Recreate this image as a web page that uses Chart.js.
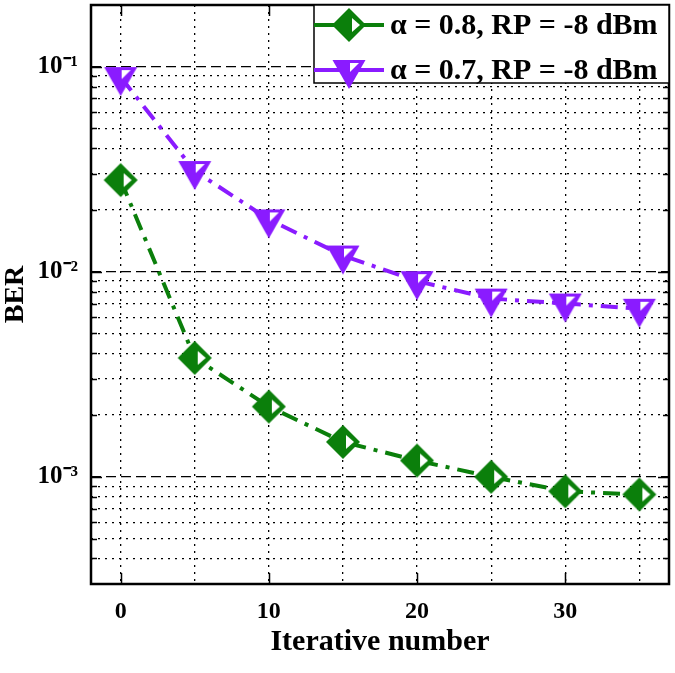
<!DOCTYPE html>
<html>
<head>
<meta charset="utf-8">
<script src="https://cdn.jsdelivr.net/npm/chart.js@4.4.1/dist/chart.umd.min.js"></script>
<style>
  html, body { margin: 0; padding: 0; background: #fff; }
  #wrap { width: 675px; height: 673px; }
</style>
</head>
<body>
<div id="wrap"><canvas id="berChart" width="675" height="673"></canvas></div>
<script>
const iterations = [0, 5, 10, 15, 20, 25, 30, 35];
const berAlpha08 = [0.028, 0.0038, 0.0022, 0.00148, 0.0012, 0.001, 0.00085, 0.00082];
const berAlpha07 = [0.089, 0.031, 0.018, 0.012, 0.009, 0.0074, 0.0070, 0.0066];
const seriesLabels = ['α = 0.8, RP = -8 dBm', 'α = 0.7, RP = -8 dBm'];

const xGridTicks = [0, 5, 10, 15, 20, 25, 30, 35];
const xLabelTicks = [0, 10, 20, 30];
const yDecades = [1e-4, 1e-3, 1e-2, 1e-1];
const yMantissas = [1, 2, 3, 4, 5, 6, 7, 8, 9];
const yDecadeLabels = { '-1': '10⁻¹', '-2': '10⁻²', '-3': '10⁻³' };

const GREEN = '#0b7f0b';
const PURPLE = '#8a1bff';
const SERIF = "'Liberation Serif', 'Times New Roman', serif";

document.addEventListener('DOMContentLoaded', () => {
  const yMin = 3e-4, yMax = 0.2;
  const yTicks = [];
  yDecades.forEach(d => yMantissas.forEach(m => {
    const v = +(d * m).toPrecision(3);
    if (v > yMin && v < yMax) yTicks.push(v);
  }));
  const isDecade = v => Math.abs(Math.log10(v) - Math.round(Math.log10(v))) < 1e-6;

  // marker images
  function diamondMarker(color) {
    const c = document.createElement('canvas');
    c.width = 40; c.height = 40;
    const g = c.getContext('2d');
    g.fillStyle = color;
    g.beginPath();
    g.moveTo(20, 3); g.lineTo(37, 20); g.lineTo(20, 37); g.lineTo(3, 20);
    g.closePath(); g.fill();
    g.fillStyle = '#fff';
    g.beginPath();
    g.moveTo(23, 13); g.lineTo(31, 20); g.lineTo(23, 27);
    g.closePath(); g.fill();
    return c;
  }
  function triangleMarker(color) {
    const c = document.createElement('canvas');
    c.width = 40; c.height = 40;
    const g = c.getContext('2d');
    g.fillStyle = color;
    g.beginPath();
    g.moveTo(3.5, 10); g.lineTo(36.5, 10); g.lineTo(20, 39);
    g.closePath(); g.fill();
    g.fillStyle = '#fff';
    g.beginPath();
    g.moveTo(21, 13); g.lineTo(30, 13); g.lineTo(21, 22);
    g.closePath(); g.fill();
    return c;
  }
  const greenMarker = diamondMarker(GREEN);
  const purpleMarker = triangleMarker(PURPLE);

  const framePlugin = {
    id: 'frame',
    afterDraw(chart) {
      const { ctx, chartArea: a, scales } = chart;
      ctx.save();
      ctx.strokeStyle = '#000';
      ctx.lineWidth = 1.5;
      ctx.beginPath();
      yTicks.forEach(v => {
        const y = Math.round(scales.y.getPixelForValue(v)) + 0.5;
        const len = isDecade(v) ? 11 : 6;
        ctx.moveTo(a.left, y); ctx.lineTo(a.left + len, y);
        ctx.moveTo(a.right, y); ctx.lineTo(a.right - len, y);
      });
      xLabelTicks.forEach(v => {
        const x = Math.round(scales.x.getPixelForValue(v)) + 0.5;
        ctx.moveTo(x, a.bottom); ctx.lineTo(x, a.bottom - 11);
        ctx.moveTo(x, a.top); ctx.lineTo(x, a.top + 11);
      });
      ctx.stroke();
      ctx.lineWidth = 2.5;
      ctx.strokeRect(a.left, a.top, a.right - a.left, a.bottom - a.top);

      // legend
      const lx = 314, ly = a.top, lw = a.right - 314, lh = 78;
      ctx.fillStyle = '#fff';
      ctx.fillRect(lx, ly, lw, lh);
      ctx.lineWidth = 1.5;
      ctx.strokeRect(lx, ly, lw, lh);
      chart.data.datasets.forEach((ds, i) => {
        const cy = ly + 20 + i * 45;
        ctx.strokeStyle = ds.borderColor;
        ctx.lineWidth = 4;
        ctx.beginPath();
        ctx.moveTo(lx, cy); ctx.lineTo(lx + 70, cy);
        ctx.stroke();
        ctx.drawImage(ds.pointStyle, lx + 35 - 20, cy - 20);
        ctx.fillStyle = '#000';
        ctx.font = 'bold 30px ' + SERIF;
        ctx.textAlign = 'left';
        ctx.textBaseline = 'middle';
        ctx.fillText(ds.label, lx + 76, cy + 1);
      });
      ctx.restore();
    }
  };

  new Chart(document.getElementById('berChart').getContext('2d'), {
    type: 'line',
    data: {
      datasets: [
        {
          label: seriesLabels[0],
          data: iterations.map((x, i) => ({ x, y: berAlpha08[i] })),
          borderColor: GREEN,
          borderWidth: 4,
          borderDash: [17, 8, 4, 8],
          pointStyle: greenMarker,
          pointRadius: 17,
          fill: false,
          tension: 0
        },
        {
          label: seriesLabels[1],
          data: iterations.map((x, i) => ({ x, y: berAlpha07[i] })),
          borderColor: PURPLE,
          borderWidth: 4,
          borderDash: [17, 8, 4, 8],
          pointStyle: purpleMarker,
          pointRadius: 17,
          fill: false,
          tension: 0
        }
      ]
    },
    options: {
      responsive: false,
      animation: false,
      layout: { autoPadding: false, padding: { left: 0, right: 6, top: 5, bottom: 0 } },
      plugins: { legend: { display: false }, tooltip: { enabled: false } },
      scales: {
        x: {
          type: 'linear',
          min: -2,
          max: 37,
          afterBuildTicks: s => { s.ticks = xGridTicks.map(v => ({ value: v })); },
          afterFit: s => { s.height = 89; s.paddingLeft = 0; s.paddingRight = 0; },
          grid: { color: '#000', lineWidth: 1.3, drawTicks: false },
          border: { display: false, dash: [2, 5] },
          ticks: {
            autoSkip: false,
            maxRotation: 0,
            padding: 13,
            color: '#000',
            font: { family: SERIF, size: 24, weight: 'bold' },
            callback: v => (xLabelTicks.includes(v) ? String(v) : '')
          },
          title: {
            display: true,
            text: 'Iterative number',
            color: '#000',
            font: { family: SERIF, size: 30, weight: 'bold', lineHeight: 1 },
            padding: { top: 0, bottom: 16 }
          }
        },
        y: {
          type: 'logarithmic',
          min: yMin,
          max: yMax,
          afterBuildTicks: s => { s.ticks = yTicks.map(v => ({ value: v })); },
          afterFit: s => { s.width = 91; s.paddingTop = 0; s.paddingBottom = 0; },
          grid: { color: '#000', lineWidth: 1.3, drawTicks: false },
          border: {
            display: false,
            dash: c => (c.tick && isDecade(c.tick.value) ? [10, 5] : [2, 5])
          },
          ticks: {
            autoSkip: false,
            padding: 13,
            color: '#000',
            font: { family: SERIF, size: 25, weight: 'bold' },
            callback: v => (isDecade(v) ? (yDecadeLabels[Math.round(Math.log10(v))] || '') : '')
          },
          title: {
            display: true,
            text: 'BER',
            color: '#000',
            font: { family: SERIF, size: 28, weight: 'bold', lineHeight: 1 },
            padding: { top: 2, bottom: 0 }
          }
        }
      }
    },
    plugins: [framePlugin]
  });
});
</script>
</body>
</html>
